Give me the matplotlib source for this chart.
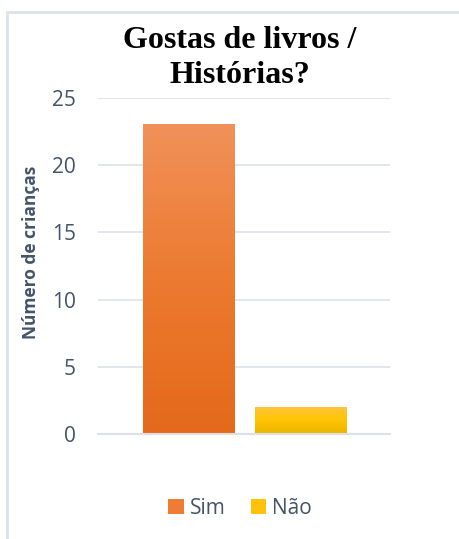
import numpy as np
import matplotlib
matplotlib.use("Agg")
import matplotlib.pyplot as plt
from matplotlib.colors import LinearSegmentedColormap
from matplotlib.patches import Patch, Rectangle

categorias = ["Sim", "Não"]
valores = [23, 2]
yticks = [0, 5, 10, 15, 20, 25]
titulo = "Gostas de livros /\nHistórias?"
ylabel = "Número de crianças"

# gradient colours (bottom -> top) for each bar
grad_sim = ["#E4691B", "#EC7A30", "#F19159"]
grad_nao = ["#E9B500", "#FFC400", "#FFC53A"]
grads = [grad_sim, grad_nao]
leg_cols = ["#EE7C34", "#FFC20C"]

W, H = 459, 539
fig = plt.figure(figsize=(W / 100, H / 100), dpi=100)

# chart frame (light border on top/left)
frame = Rectangle((7 / W, -0.1), 1.2, (H - 12) / H + 0.1, transform=fig.transFigure,
                  facecolor="none", edgecolor="#DDE2E8", linewidth=2, zorder=-1)
fig.patches.append(frame)

ax = fig.add_axes([98 / W, (H - 434) / H, (390 - 98) / W, (434 - 98) / H])
ax.set_facecolor("none")

width = 0.8125
x = np.arange(len(valores))
for xi, v, g in zip(x, valores, grads):
    cmap = LinearSegmentedColormap.from_list("g", g)
    grad = np.linspace(0, 1, 256).reshape(-1, 1)
    ax.imshow(grad, cmap=cmap, origin="lower", aspect="auto",
              extent=[xi - width / 2, xi + width / 2, 0, v], zorder=2)

ax.set_xlim(-0.808, 1.799)
ax.set_ylim(0, 25)
ax.set_yticks(yticks)
ax.set_xticks([])
ax.grid(axis="y", color="#DDE1E6", linewidth=1.2, zorder=0)
ax.set_axisbelow(True)
for s in ["top", "right", "left"]:
    ax.spines[s].set_visible(False)
ax.spines["bottom"].set_color("#DDE1E6")
ax.spines["bottom"].set_linewidth(1.5)
ax.tick_params(axis="y", length=0, pad=16, labelsize=15, labelcolor="#44546A")
for lab in ax.get_yticklabels():
    lab.set_fontfamily("Open Sans")

fig.text(31 / W, 1 - 252 / H, ylabel, rotation=90, ha="center", va="center",
         fontsize=12.5, fontweight="bold", color="#44546A", family="Open Sans")

fig.text(240 / W, 1 - 58 / H, titulo, ha="center", va="center", fontsize=23,
         fontweight="bold", family="Liberation Serif", linespacing=1.3)

handles = [Patch(facecolor=c, edgecolor="none") for c in leg_cols]
leg = fig.legend(handles, categorias, loc="center", bbox_to_anchor=(240 / W, 1 - 508 / H),
                 ncol=2, frameon=False, handlelength=0.75, handleheight=0.75,
                 handletextpad=0.3, columnspacing=1.2,
                 prop={"family": "Open Sans", "size": 15})
for t in leg.get_texts():
    t.set_color("#44546A")

fig.savefig("out.png", dpi=100)
